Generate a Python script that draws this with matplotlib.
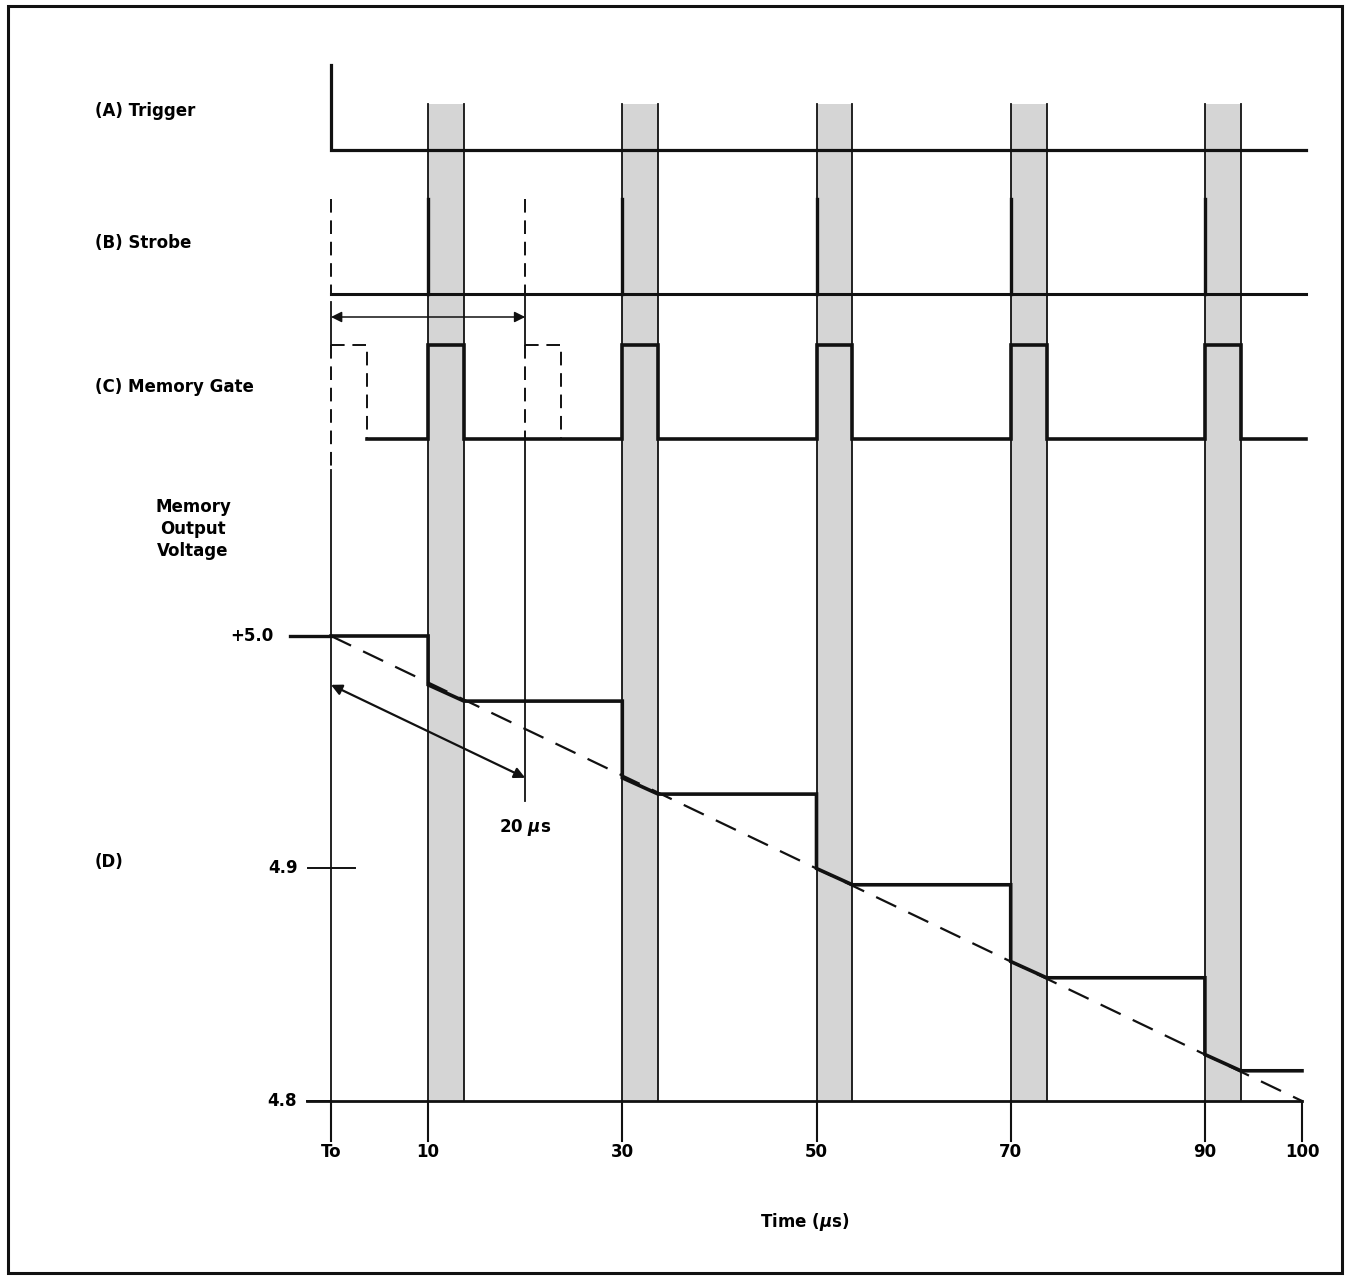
import matplotlib
matplotlib.use('Agg')
import matplotlib.pyplot as plt
from matplotlib.transforms import blended_transform_factory
from matplotlib.patches import Rectangle

plt.rcParams['font.family'] = ['DejaVu Sans']
plt.rcParams['font.weight'] = 'bold'
plt.rcParams['mathtext.fontset'] = 'dejavusans'

# ---- data ----
strobe_t = [10, 30, 50, 70, 90]           # strobe / sample times (us)
gate_width = 3.7                          # memory gate width (us)
ghost_t = [0, 20]                         # dashed (previous / next) strobes
t_end = 100.4
v_start = 5.0
v_drop = [4.979, 4.939, 4.900, 4.860, 4.820]   # level right after the step
v_hold = [4.972, 4.932, 4.893, 4.853, 4.813]   # level held after the gate
decay_t = [0, 100]
decay_v = [5.0, 4.8]
x_ticks = [0, 10, 30, 50, 70, 90, 100]
x_labels = ['To', '10', '30', '50', '70', '90', '100']
y_ticks = [5.0, 4.9, 4.8]
y_labels = ['+5.0', '4.9', '4.8']
row_labels = ['(A) Trigger', '(B) Strobe', '(C) Memory Gate', '(D)']

W, H = 1351, 1281
fig = plt.figure(figsize=(W / 100, H / 100), dpi=100)
ax = fig.add_axes([0, 0, 1, 1])
ax.set_xlim(-331 / 9.71, (W - 331) / 9.71)
ylo, yhi = 5 - (H - 636) / 2325, 5 + 636 / 2325
ax.set_ylim(ylo, yhi)
ax.axis('off')
bt = blended_transform_factory(ax.transData, ax.transAxes)
K = '#111111'


def row(px):
    # layout row (reference pixel) -> axes fraction
    return 1 - px / H


def vfrac(v):
    return (v - ylo) / (yhi - ylo)


TRIG_TOP, TRIG_LOW = row(65), row(150)
STB_TOP, STB_LOW = row(199), row(294)
GATE_HI, GATE_LO = row(345), row(439)
BAND_TOP = row(104)
ARROW_ROW = row(317)
v_axis = y_ticks[-1]
tick_len = 0.017

# shaded gate bands
for t in strobe_t:
    ax.axvspan(t, t + gate_width, ymin=vfrac(v_axis), ymax=BAND_TOP,
               color='#d5d5d5', lw=0, zorder=0)
    ax.plot([t, t], [BAND_TOP, vfrac(v_axis)], transform=bt, color=K, lw=1.3)
    ax.plot([t + gate_width] * 2, [BAND_TOP, vfrac(v_axis)], transform=bt,
            color=K, lw=1.3)

# (A) trigger
ax.plot([0, 0, t_end], [TRIG_TOP, TRIG_LOW, TRIG_LOW], transform=bt,
        color=K, lw=2.3, solid_joinstyle='miter')

# (B) strobe
ax.plot([0, t_end], [STB_LOW, STB_LOW], transform=bt, color=K, lw=2.2)
for t in strobe_t:
    ax.plot([t, t], [STB_LOW, STB_TOP], transform=bt, color=K, lw=2.4)

# (C) memory gate
g_t, g_y = [gate_width], [GATE_LO]
for t in strobe_t:
    g_t += [t, t, t + gate_width, t + gate_width]
    g_y += [GATE_LO, GATE_HI, GATE_HI, GATE_LO]
g_t.append(t_end)
g_y.append(GATE_LO)
ax.plot(g_t, g_y, transform=bt, color=K, lw=2.6, solid_joinstyle='miter')

# dashed ghost strobe / gate at To and To+20
dash = (0, (7, 4))
for i, t0 in enumerate(ghost_t):
    ax.plot([t0, t0], [STB_TOP, STB_LOW], transform=bt, color=K, lw=1.4, ls=dash)
    ax.plot([t0, t0 + gate_width, t0 + gate_width], [GATE_HI, GATE_HI, GATE_LO],
            transform=bt, color=K, lw=1.4, ls=dash)
    bottom = row(470) if i == 0 else GATE_LO
    ax.plot([t0, t0], [GATE_HI, bottom], transform=bt, color=K, lw=1.4, ls=dash)
# extension lines of the 20 us arrow
ax.plot([0, 0], [row(302), GATE_HI], transform=bt, color=K, lw=1.3)
ax.plot([20, 20], [STB_LOW, GATE_HI], transform=bt, color=K, lw=1.3)
ax.plot([0, 0], [row(470), vfrac(v_axis - tick_len)], transform=bt, color=K, lw=1.3)
mark_bottom = 4.929
ax.plot([20, 20], [GATE_LO, vfrac(mark_bottom)], transform=bt, color=K, lw=1.3)
ax.annotate('', xy=(0, ARROW_ROW), xytext=(20, ARROW_ROW), xycoords=bt,
            textcoords=bt,
            arrowprops=dict(arrowstyle='<|-|>', color=K, lw=1.1,
                            mutation_scale=16, shrinkA=0, shrinkB=0))

# (D) memory output voltage
st_t, st_v = [0], [v_start]
prev = v_start
for t, vd, vh in zip(strobe_t, v_drop, v_hold):
    st_t += [t, t, t + gate_width]
    st_v += [prev, vd, vh]
    prev = vh
st_t.append(100)
st_v.append(prev)
ax.plot(st_t, st_v, color=K, lw=2.6, solid_joinstyle='miter')
ax.plot(decay_t, decay_v, color=K, lw=1.6, ls=(0, (10, 6)))

# slanted 20 us arrow, parallel to the decay line
off = 0.021
slope = (decay_v[1] - decay_v[0]) / (decay_t[1] - decay_t[0])
a0 = (0, decay_v[0] - off)
a1 = (20, decay_v[0] + slope * 20 - off)
ax.annotate('', xy=a0, xytext=a1,
            arrowprops=dict(arrowstyle='<|-|>', color=K, lw=1.6,
                            mutation_scale=16, shrinkA=0, shrinkB=0))
ax.annotate('20 $\\mu$s', xy=(20, mark_bottom), xytext=(0, -19),
            textcoords='offset points', ha='center', va='center', fontsize=12)

# voltage axis
ax.plot([-2.5, 100], [v_axis, v_axis], color=K, lw=2.0)
y_tick_left = [-4.2, -2.4, -2.5]
y_tick_right = [0, 2.5, 0]
y_gap = [12, 7, 7]
for v, lab, x0, x1, g in zip(y_ticks, y_labels, y_tick_left, y_tick_right, y_gap):
    ax.plot([x0, x1], [v, v], color=K, lw=2.4 if v == v_start else 1.4)
    ax.annotate(lab, xy=(x0, v), xytext=(-g, 0), textcoords='offset points',
                ha='right', va='center', fontsize=12)

# time axis
for t, lab in zip(x_ticks, x_labels):
    ax.plot([t, t], [v_axis, v_axis - tick_len], color=K, lw=1.5)
    ax.annotate(lab, xy=(t, v_axis), xytext=(0, -37), textcoords='offset points',
                ha='center', va='center', fontsize=12)
fig.text(805 / W, row(1222), 'Time ($\\mu$s)', ha='center', va='center',
         fontsize=12)

# row labels
for lab, px in zip(row_labels, [111, 243, 387, 862]):
    fig.text(95 / W, row(px), lab, ha='left', va='center', fontsize=12)
fig.text(193 / W, row(529), 'Memory\nOutput\nVoltage', ha='center',
         va='center', multialignment='center', fontsize=12, linespacing=1.25)

# frame
fig.add_artist(Rectangle((8 / W, row(1273)), (1342 - 8) / W, (1273 - 6) / H,
                         transform=fig.transFigure, fill=False, lw=2.2,
                         edgecolor=K))

fig.savefig('out.png', dpi=100, facecolor='white')
